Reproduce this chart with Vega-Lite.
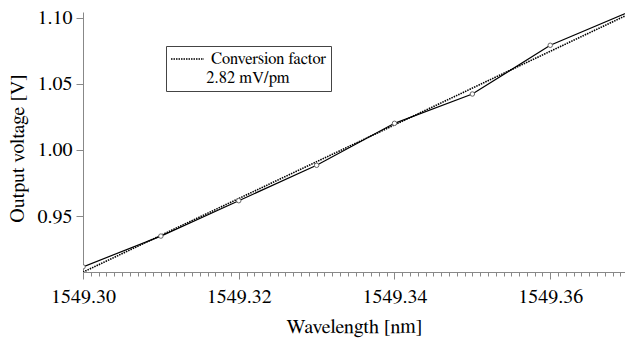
{
  "$schema": "https://vega.github.io/schema/vega-lite/v6.json",
  "width": 542,
  "height": 260,
  "autosize": "none",
  "padding": {"left": 83, "top": 12, "right": 0, "bottom": 68},
  "background": "white",
  "config": {
    "view": {"stroke": null},
    "font": "Nimbus Roman, FreeSerif, Tinos, DejaVu Serif",
    "axis": {"labelColor": "black", "titleColor": "black", "titleFontWeight": "normal", "grid": false, "domainColor": "#888", "tickColor": "#888"}
  },
  "datasets": {
    "meas": [
      {"wavelength": 1549.30, "voltage": 0.9115},
      {"wavelength": 1549.31, "voltage": 0.9348},
      {"wavelength": 1549.32, "voltage": 0.9616},
      {"wavelength": 1549.33, "voltage": 0.9884},
      {"wavelength": 1549.34, "voltage": 1.0202},
      {"wavelength": 1549.35, "voltage": 1.0424},
      {"wavelength": 1549.36, "voltage": 1.0793},
      {"wavelength": 1549.37, "voltage": 1.1043}
    ],
    "fit": [
      {"wavelength": 1549.30, "voltage": 0.9075, "series": "Conversion factor"},
      {"wavelength": 1549.37, "voltage": 1.1026, "series": "Conversion factor"}
    ]
  },
  "resolve": {"axis": {"x": "independent"}},
  "layer": [
    {
      "data": {"name": "fit"},
      "mark": {"type": "line", "color": "black", "strokeWidth": 1.6, "clip": true},
      "encoding": {
        "x": {"field": "wavelength", "type": "quantitative", "scale": {"domain": [1549.30, 1549.3696], "nice": false, "zero": false}, "axis": null},
        "y": {"field": "voltage", "type": "quantitative", "scale": {"domain": [0.9076, 1.1045], "nice": false, "zero": false},
          "axis": {"title": "Output voltage [V]", "values": [0.95, 1.0, 1.05, 1.1], "format": ".2f", "labelFontSize": 20, "titleFontSize": 20, "tickSize": 7, "labelPadding": 4, "titlePadding": 10, "titleY": 136}},
        "strokeDash": {
          "field": "series", "type": "nominal",
          "scale": {"range": [[1.5, 1]]},
          "legend": {
            "title": "2.82 mV/pm",
            "titleOrient": "bottom",
            "titleAnchor": "middle",
            "titleFontSize": 16.5,
            "titleFontWeight": "normal",
            "titleColor": "black",
            "titlePadding": 2,
            "labelFontSize": 16.5,
            "labelColor": "black",
            "labelOffset": 23,
            "symbolType": "M-1,0H3.125",
            "symbolSize": 256,
            "symbolStrokeWidth": 1.5,
            "symbolStrokeColor": "black",
            "orient": "none",
            "legendX": 83,
            "legendY": 34,
            "padding": 4,
            "strokeColor": "#444",
            "fillColor": "white"
          }
        }
      }
    },
    {
      "data": {"name": "meas"},
      "mark": {"type": "line", "color": "black", "strokeWidth": 1.2, "clip": true},
      "encoding": {
        "x": {"field": "wavelength", "type": "quantitative",
          "axis": {"title": "Wavelength [nm]", "values": [1549.30, 1549.32, 1549.34, 1549.36], "format": ".2f", "labelFontSize": 20, "titleFontSize": 20, "tickSize": 7, "labelPadding": 7, "titlePadding": 10, "labelFlush": false}},
        "y": {"field": "voltage", "type": "quantitative",
          "axis": {"title": "Output voltage [V]", "values": [0.95, 1.0, 1.05, 1.1], "format": ".2f", "labelFontSize": 20, "titleFontSize": 20, "tickSize": 7, "labelPadding": 4, "titlePadding": 10, "titleY": 136}}
      }
    },
    {
      "data": {"name": "meas"},
      "mark": {"type": "point", "shape": "circle", "size": 20, "stroke": "#666", "fill": "white", "filled": true, "strokeWidth": 1, "opacity": 1, "clip": true},
      "encoding": {
        "x": {"field": "wavelength", "type": "quantitative",
          "axis": {"orient": "bottom", "title": null, "labels": false, "domain": false, "tickSize": 4,
            "values": [1549.300,1549.301,1549.302,1549.303,1549.304,1549.305,1549.306,1549.307,1549.308,1549.309,1549.310,1549.311,1549.312,1549.313,1549.314,1549.315,1549.316,1549.317,1549.318,1549.319,1549.320,1549.321,1549.322,1549.323,1549.324,1549.325,1549.326,1549.327,1549.328,1549.329,1549.330,1549.331,1549.332,1549.333,1549.334,1549.335,1549.336,1549.337,1549.338,1549.339,1549.340,1549.341,1549.342,1549.343,1549.344,1549.345,1549.346,1549.347,1549.348,1549.349,1549.350,1549.351,1549.352,1549.353,1549.354,1549.355,1549.356,1549.357,1549.358,1549.359,1549.360,1549.361,1549.362,1549.363,1549.364,1549.365,1549.366,1549.367,1549.368,1549.369]}},
        "y": {"field": "voltage", "type": "quantitative",
          "axis": {"title": "Output voltage [V]", "values": [0.95, 1.0, 1.05, 1.1], "format": ".2f", "labelFontSize": 20, "titleFontSize": 20, "tickSize": 7, "labelPadding": 4, "titlePadding": 10, "titleY": 136}}
      }
    }
  ]
}
